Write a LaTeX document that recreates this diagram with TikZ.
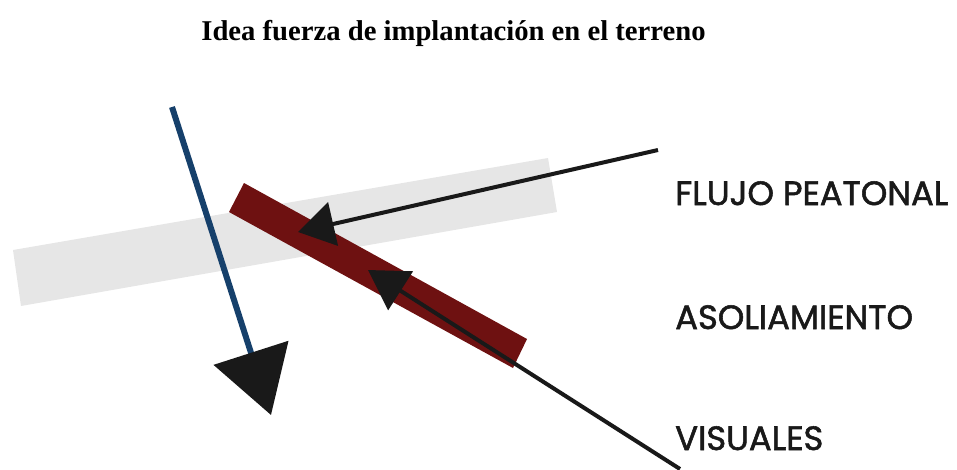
\documentclass[tikz,border=0pt]{standalone}
\usepackage{fontspec}
\setmainfont{Liberation Serif}
\newfontfamily\labelfont[FakeBold=1.6]{Poppins}
\usetikzlibrary{arrows.meta}

\definecolor{bandgray}{RGB}{230,230,230}
\definecolor{barred}{RGB}{110,17,17}
\definecolor{flowblue}{RGB}{22,64,107}

\begin{document}
\begin{tikzpicture}[x=0.75pt, y=-0.75pt,
    every node/.style={inner sep=0pt},
    tag/.style={font=\labelfont\fontsize{25.3}{28}\selectfont, anchor=base west, text=black!90}]
    \useasboundingbox (0,0) rectangle (957,469);

    % title
    \node[font=\bfseries\fontsize{21.5}{24}\selectfont, anchor=base] (title) at (453.5,40) {Idea fuerza de implantación en el terreno};

    % terrain band and block
    \fill[bandgray] (13,250) -- (548,158) -- (557,212) -- (21,306) -- cycle;
    \fill[barred] (244,183) -- (527,339) -- (513,368) -- (229,212) -- cycle;

    % end points
    \coordinate (b0) at (172,107);
    \coordinate (b1) at (271,415);
    \coordinate (f0) at (658,150);
    \coordinate (f1) at (298,232);
    \coordinate (v0) at (680,469);
    \coordinate (v1) at (368,270);

    % arrows
    \draw[flowblue, line width=4.5pt, -{Triangle[length=49pt, width=58pt, fill=black!90, color=black!90]}] (b0) -- (b1);
    \draw[black!90, line width=3pt, -{Triangle[length=27pt, width=33pt]}] (f0) -- (f1);
    \draw[black!90, line width=3pt, -{Triangle[length=29pt, width=34pt]}] (v0) -- (v1);

    % labels
    \node[tag] (flujo) at (675,205) {FLUJO PEATONAL};
    \node[tag] (asol) at (675,329) {ASOLIAMIENTO};
    \node[tag] (visual) at (675,450) {VISUALES};
\end{tikzpicture}
\end{document}
